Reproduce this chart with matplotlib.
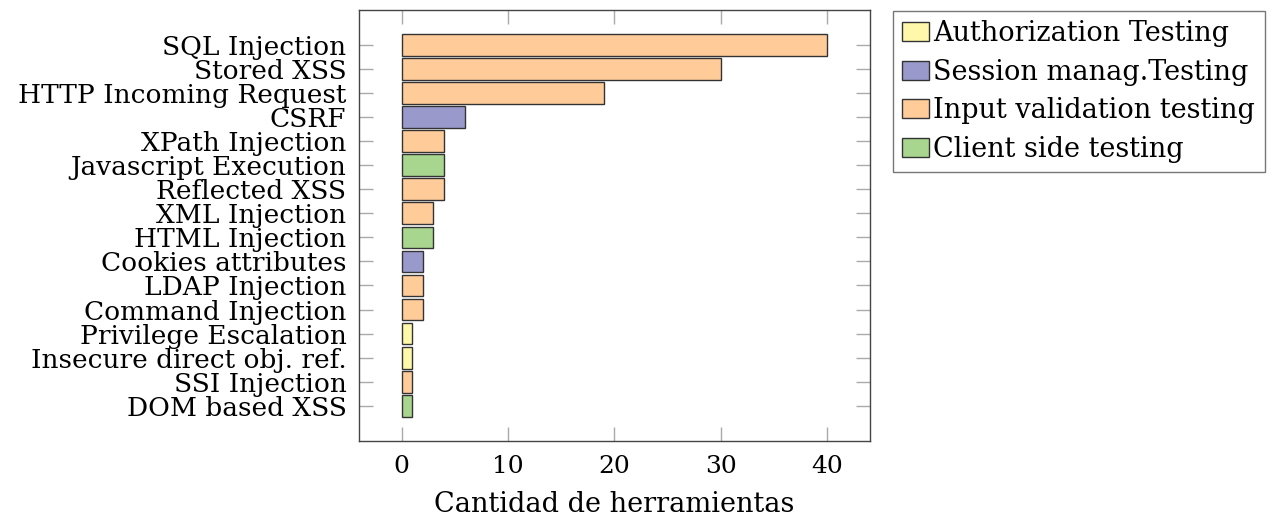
import matplotlib
matplotlib.use("Agg")
import matplotlib.pyplot as plt
from matplotlib.patches import Patch

# Data (top to bottom)
categories = [
    "SQL Injection", "Stored XSS", "HTTP Incoming Request", "CSRF",
    "XPath Injection", "Javascript Execution", "Reflected XSS", "XML Injection",
    "HTML Injection", "Cookies attributes", "LDAP Injection", "Command Injection",
    "Privilege Escalation", "Insecure direct obj. ref.", "SSI Injection", "DOM based XSS",
]
counts = [40, 30, 19, 6, 4, 4, 4, 3, 3, 2, 2, 2, 1, 1, 1, 1]
groups = [
    "input", "input", "input", "session", "input", "client", "input", "input",
    "client", "session", "input", "input", "auth", "auth", "input", "client",
]

group_names = ["auth", "session", "input", "client"]
group_labels = ["Authorization Testing", "Session manag.Testing",
                "Input validation testing", "Client side testing"]
group_colors = {"auth": "#fff8aa", "session": "#9999cc",
                "input": "#ffcc99", "client": "#a8d68e"}

plt.rcParams["font.family"] = ["DejaVu Serif"]

fig = plt.figure(figsize=(12.77, 5.2), dpi=100)
ax = fig.add_axes([0.2811, 0.1525, 0.6813 - 0.2811, 0.9808 - 0.1525])

ypos = list(range(len(categories)))
ax.barh(ypos, counts, height=0.9,
        color=[group_colors[g] for g in groups],
        edgecolor="#333333", linewidth=1.0)

ax.set_yticks(ypos)
ax.set_yticklabels(categories, fontsize=19)
ax.set_ylim(len(categories) + 0.45, -1.45)
ax.set_xlim(-4, 44)
ax.set_xticks([0, 10, 20, 30, 40])
ax.tick_params(axis="x", labelsize=18, pad=10)
ax.tick_params(direction="in", length=10, color="#aaaaaa", width=1,
               top=True, right=True)
ax.tick_params(axis="y", pad=9)
ax.set_xlabel("Cantidad de herramientas", fontsize=19.5, labelpad=10)

for s in ax.spines.values():
    s.set_color("#444444")
    s.set_linewidth(1.0)

handles = [Patch(facecolor=group_colors[g], edgecolor="#333333", label=l)
           for g, l in zip(group_names, group_labels)]
leg = fig.legend(handles=handles, loc="upper left",
                 bbox_to_anchor=(0.699, 0.979), fontsize=19.5,
                 frameon=True, fancybox=False, edgecolor="#555555",
                 handlelength=1.0, handleheight=0.7, handletextpad=0.15,
                 labelspacing=0.42, borderpad=0.35, borderaxespad=0.0)
leg.get_frame().set_linewidth(1.0)

fig.savefig("out.png", dpi=100)
